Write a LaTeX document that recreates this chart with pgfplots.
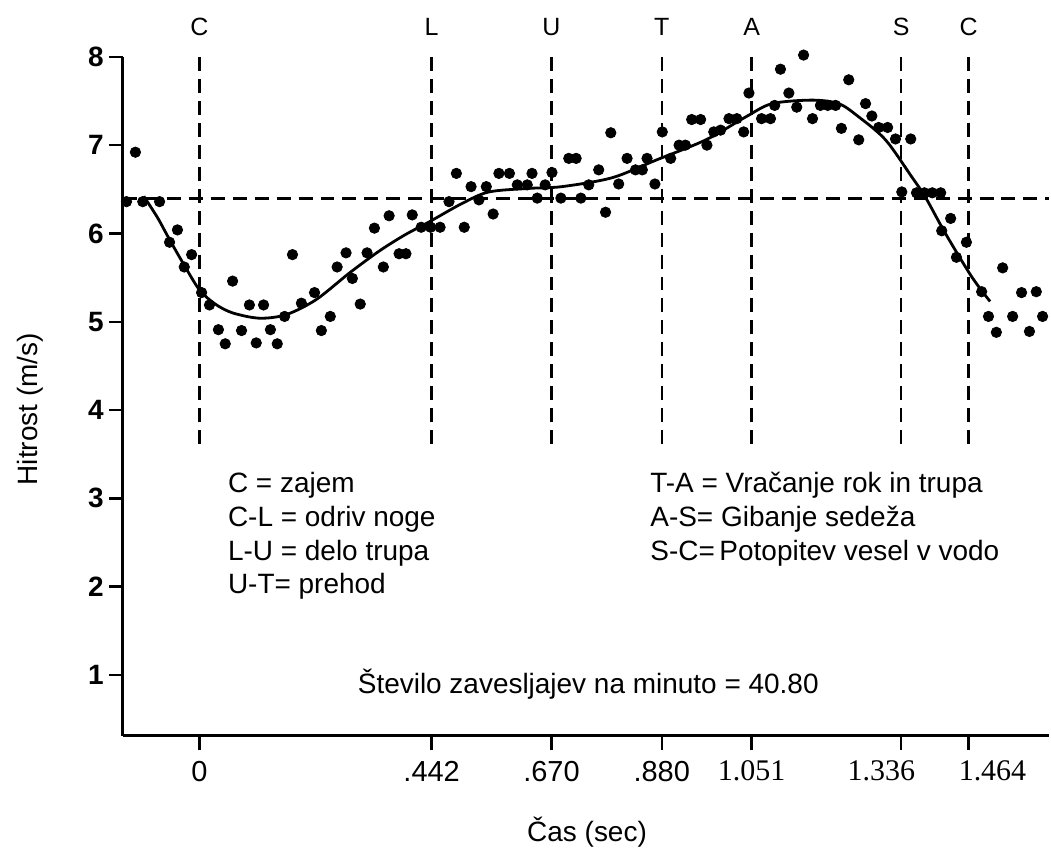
\documentclass[border=0pt]{standalone}
\usepackage{fontspec}
\setmainfont{Liberation Sans}
\newfontfamily\serifnum{Liberation Serif}
\usepackage{pgfplots}
\pgfplotsset{compat=1.18}
\newcommand\sn{\serifnum\fontsize{15}{15}\selectfont}
\begin{document}
\begin{tikzpicture}
\begin{axis}[
  scale only axis, width=464pt, height=340pt,
  xmin=-0.146, xmax=1.618, ymin=0.31, ymax=8,
  axis x line=bottom, axis y line=left,
  axis line style={line width=1.6pt, -},
  clip=false,
  /pgf/number format/assume math mode=true,
  xtick={0,0.442,0.670,0.880,1.051,1.336,1.464},
  xticklabels={0,.442,.670,.880,{\sn 1.051},{\sn 1.336\hspace*{20pt}},{\hspace*{24pt}\sn 1.464}},
  ytick={1,2,3,4,5,6,7,8},
  tick align=outside,
  major tick length=7pt,
  tick style={line width=1.2pt, black},
  x tick label style={font=\fontsize{14.5}{14.5}\selectfont, yshift=-2pt},
  y tick label style={font=\bfseries\fontsize{14}{14}\selectfont, xshift=1pt},
  xlabel={Čas (sec)},
  ylabel={Hitrost (m/s)},
  xlabel style={font=\fontsize{14}{14}\selectfont, at={(axis description cs:0.501,-0.156)}, anchor=base},
  ylabel style={font=\fontsize{14}{14}\selectfont, at={(axis description cs:-0.100,0.481)}, anchor=center},
]
% invisible frame giving the picture its proportions
\path (axis cs:-0.3798,-0.9018) rectangle (axis cs:1.618,8.644);

% reference lines
\addplot[black, line width=1.2pt, dash pattern=on 7pt off 4pt] coordinates {(-0.146,6.394) (1.618,6.394)};
\foreach \t in {0,0.442,0.670,0.880,1.051,1.336,1.464} {
  \edef\temp{\noexpand\addplot[black, line width=1.2pt, dash pattern=on 7pt off 4pt] coordinates {(\t,8) (\t,3.612)};}
  \temp
}

% measured points
\addplot[only marks, mark=*, mark size=2.6pt, black] coordinates {
(-0.122,6.92) (-0.139,6.36) (-0.108,6.36) (-0.076,6.36)
(-0.057,5.90) (-0.042,6.04) (-0.029,5.62) (-0.015,5.76)
(0.004,5.33) (0.019,5.19) (0.036,4.91) (0.049,4.75) (0.063,5.46)
(0.080,4.90) (0.095,5.19) (0.108,4.76) (0.122,5.19) (0.135,4.91)
(0.148,4.75) (0.162,5.06) (0.177,5.76) (0.194,5.21) (0.219,5.33)
(0.232,4.90) (0.249,5.06) (0.262,5.62) (0.279,5.78) (0.291,5.49)
(0.306,5.20) (0.319,5.78) (0.333,6.06) (0.350,5.62) (0.361,6.20)
(0.380,5.77) (0.393,5.77) (0.405,6.21) (0.422,6.07) (0.440,6.07)
(0.458,6.07) (0.475,6.36) (0.489,6.68) (0.504,6.07) (0.517,6.53)
(0.532,6.38) (0.546,6.53) (0.559,6.22) (0.570,6.68) (0.590,6.68)
(0.605,6.55) (0.624,6.55) (0.633,6.68) (0.643,6.40) (0.658,6.55)
(0.671,6.69) (0.688,6.40) (0.703,6.85) (0.717,6.85) (0.726,6.40)
(0.741,6.55) (0.760,6.72) (0.773,6.24) (0.783,7.14) (0.798,6.56)
(0.814,6.85) (0.830,6.72) (0.843,6.72) (0.852,6.85) (0.867,6.56)
(0.881,7.15) (0.897,6.85) (0.913,7.00) (0.925,7.00) (0.937,7.29)
(0.954,7.29) (0.966,7.00) (0.979,7.15) (0.992,7.17) (1.008,7.30)
(1.023,7.30) (1.036,7.15) (1.046,7.59) (1.070,7.30) (1.087,7.30)
(1.095,7.45) (1.106,7.86) (1.122,7.59) (1.137,7.43) (1.150,8.02)
(1.167,7.30) (1.182,7.45) (1.196,7.45) (1.211,7.45) (1.222,7.19)
(1.236,7.74) (1.255,7.06) (1.268,7.47) (1.280,7.33) (1.293,7.20)
(1.310,7.20) (1.325,7.07) (1.354,7.07) (1.337,6.47) (1.365,6.46)
(1.380,6.46) (1.395,6.46) (1.411,6.46) (1.413,6.03) (1.430,6.17)
(1.441,5.73) (1.460,5.90) (1.489,5.34) (1.502,5.06) (1.517,4.88)
(1.529,5.61) (1.548,5.06) (1.565,5.33) (1.580,4.89) (1.593,5.34)
(1.605,5.06)
};

% fitted curve
\addplot[black, line width=1.4pt, smooth, tension=0.5] coordinates {
(-0.106,6.42) (-0.080,6.18) (-0.057,5.93) (-0.030,5.65) (0,5.36)
(0.030,5.20) (0.063,5.10) (0.114,5.04) (0.165,5.08) (0.222,5.25)
(0.285,5.55) (0.342,5.80) (0.390,5.98) (0.437,6.13) (0.500,6.34)
(0.551,6.47) (0.627,6.51) (0.690,6.53) (0.785,6.63) (0.869,6.83)
(0.964,7.06) (1.040,7.32) (1.090,7.47) (1.166,7.51) (1.217,7.47)
(1.255,7.32) (1.306,7.06) (1.356,6.64) (1.382,6.41) (1.420,6.00)
(1.470,5.51) (1.505,5.23)
};

% phase letters
\foreach \t/\l in {0/C,0.442/L,0.670/U,0.880/T,1.051/A,1.336/S,1.464/C} {
  \edef\temp{\noexpand\node[font=\noexpand\fontsize{12.5}{12.5}\noexpand\selectfont] at (axis cs:\t,8.339) {\l};}
  \temp
}

% key
\begin{scope}[every node/.style={anchor=base west, inner sep=0pt, font=\fontsize{14}{14}\selectfont}]
\node at (axis cs:0.0536,3.069) {C = zajem};
\node at (axis cs:0.0536,2.685) {C-L = odriv noge};
\node at (axis cs:0.0536,2.300) {L-U = delo trupa};
\node at (axis cs:0.0536,1.927) {U-T= prehod};
\node at (axis cs:0.8576,3.069) {T-A = Vračanje rok in trupa};
\node at (axis cs:0.8576,2.685) {A-S= Gibanje sedeža};
\node at (axis cs:0.8576,2.300) {S-C=\,Potopitev vesel v vodo};
\node at (axis cs:0.3007,0.785) {Število zavesljajev na minuto = 40.80};
\end{scope}
\end{axis}
\end{tikzpicture}
\end{document}
